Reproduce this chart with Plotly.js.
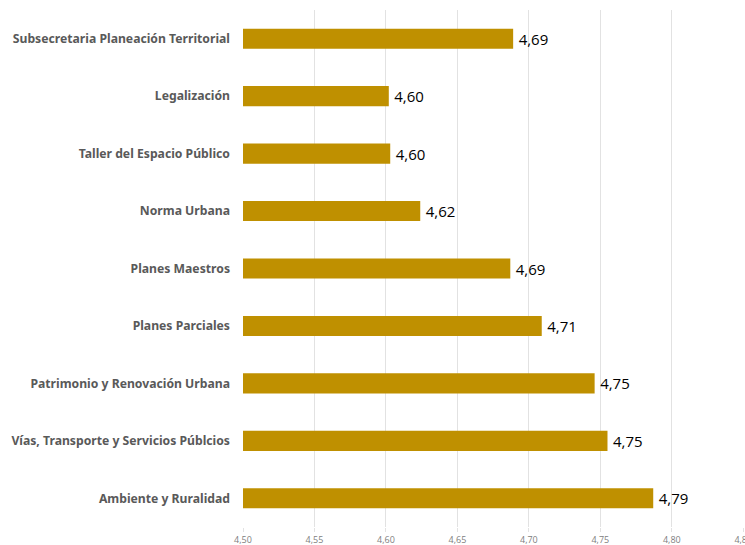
<!DOCTYPE html>
<html>
<head>
<meta charset="utf-8">
<script src="https://cdn.plot.ly/plotly-3.0.1.min.js"></script>
<style>html,body{margin:0;padding:0;background:#fff;overflow:hidden;}#chart{width:745px;height:545px;}</style>
</head>
<body>
<div id="chart"></div>
<script>
const categories = [
  "Subsecretaria Planeación Territorial",
  "Legalización",
  "Taller del Espacio Público",
  "Norma Urbana",
  "Planes Maestros",
  "Planes Parciales",
  "Patrimonio y Renovación Urbana",
  "Vías, Transporte y Servicios Públcios",
  "Ambiente y Ruralidad"
];
const values = [4.689, 4.602, 4.603, 4.624, 4.687, 4.709, 4.746, 4.755, 4.787];
const tickValues = [4.50, 4.55, 4.60, 4.65, 4.70, 4.75, 4.80, 4.85];
const tickLabels = ["4,50", "4,55", "4,60", "4,65", "4,70", "4,75", "4,80", "4,85"];
const axisStart = 4.5;

const trace = {
  type: "bar",
  orientation: "h",
  y: categories,
  x: values.map(v => v - axisStart),
  base: axisStart,
  marker: {color: "#BF9000"},
  text: values.map(v => "\u2009" + v.toFixed(2).replace(".", ",")),
  textposition: "outside",
  cliponaxis: false,
  textfont: {family: "Open Sans, sans-serif", size: 15, color: "#000000"},
  hoverinfo: "none"
};

const layout = {
  width: 745,
  height: 545,
  margin: {l: 243, r: 1, t: 10, b: 18},
  paper_bgcolor: "#ffffff",
  plot_bgcolor: "#ffffff",
  showlegend: false,
  bargap: 0.65,
  separators: ",.",
  xaxis: {
    range: [4.5, 4.8505],
    tickmode: "array",
    tickvals: tickValues,
    ticktext: tickLabels,
    ticklabeloverflow: "allow",
    showgrid: true,
    gridcolor: "#e2e2e2",
    gridwidth: 1,
    zeroline: false,
    showline: false,
    ticks: "outside",
    ticklen: 4,
    tickcolor: "#e2e2e2",
    tickfont: {family: "Open Sans, sans-serif", size: 9, color: "#808080"}
  },
  yaxis: {
    type: "category",
    categoryorder: "array",
    categoryarray: categories,
    autorange: "reversed",
    showgrid: false,
    zeroline: false,
    showline: false,
    ticks: "",
    ticklabelstandoff: 12,
    tickfont: {family: "Noto Sans, sans-serif", size: 12.2, color: "#595959", weight: "bold"}
  }
};

Plotly.newPlot("chart", [trace], layout, {displayModeBar: false, staticPlot: true});
</script>
</body>
</html>
